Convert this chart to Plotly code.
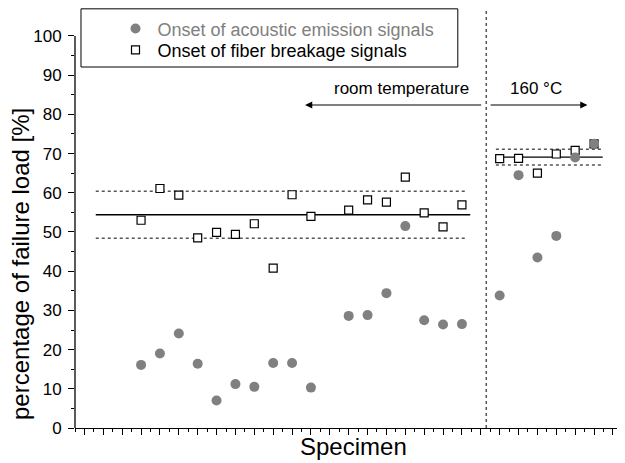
import plotly.graph_objects as go

# ---- data ----
rt_specimen = [1, 2, 3, 4, 5, 6, 7, 8, 9, 10, 12, 13, 14, 15, 16, 17, 18]
rt_ae_onset = [16.1, 19.0, 24.1, 16.4, 7.0, 11.2, 10.5, 16.6, 16.6, 10.3,
               28.6, 28.8, 34.4, 51.5, 27.5, 26.4, 26.5]
rt_fb_onset = [53.0, 61.1, 59.4, 48.5, 49.9, 49.4, 52.1, 40.8, 59.5, 54.0,
               55.6, 58.2, 57.6, 64.0, 54.9, 51.3, 56.9]

ht_specimen = [20, 21, 22, 23, 24, 25]
ht_ae_onset = [33.8, 64.5, 43.5, 49.0, 69.0, 72.5]
ht_fb_onset = [68.7, 68.8, 65.0, 69.9, 70.8, 72.5]

rt_mean, rt_sd = 54.4, 6.0
ht_mean, ht_sd = 69.1, 2.0

ae_name = "Onset of acoustic emission signals"
fb_name = "Onset of fiber breakage signals"
x_title = "Specimen"
y_title = "percentage of failure load [%]"
y_ticks = [0, 10, 20, 30, 40, 50, 60, 70, 80, 90, 100]

# ---- layout constants ----
X_RANGE = [-2.5, 26.64]
Y_RANGE = [0, 107.14]
RT_LINE_X = [-1.4, 18.44]
RT_DOT_X = [-1.4, 18.2]
HT_LINE_X = [19.8, 25.46]
DIVIDER_X = 19.29
FONT = "Arial, Liberation Sans, sans-serif"
GREY = "#808080"

fig = go.Figure()

# mean / deviation lines
for xs, m, sd, dx in [(RT_LINE_X, rt_mean, rt_sd, RT_DOT_X), (HT_LINE_X, ht_mean, ht_sd, HT_LINE_X)]:
    fig.add_trace(go.Scatter(x=xs, y=[m, m], mode="lines",
                             line=dict(color="black", width=1.3),
                             showlegend=False, hoverinfo="skip"))
    for lvl in (m + sd, m - sd):
        fig.add_trace(go.Scatter(x=dx, y=[lvl, lvl], mode="lines",
                                 line=dict(color="#555555", width=1.5, dash="dot"),
                                 showlegend=False, hoverinfo="skip"))

# fiber breakage squares
fig.add_trace(go.Scatter(
    x=rt_specimen + ht_specimen, y=rt_fb_onset + ht_fb_onset, mode="markers",
    name=fb_name, legend="legend2",
    marker=dict(symbol="square", size=8, color="white",
                line=dict(color="black", width=1.2))))

# acoustic emission circles
fig.add_trace(go.Scatter(
    x=rt_specimen + ht_specimen, y=rt_ae_onset + ht_ae_onset, mode="markers",
    name=f'<span style="color:{GREY}">{ae_name}</span>', legend="legend",
    marker=dict(symbol="circle", size=10, color=GREY, line=dict(width=0))))

shapes = [
    # y axis line only up to 100
    dict(type="line", xref="paper", yref="y", x0=0, x1=0, y0=0, y1=100,
         line=dict(color="black", width=1.3)),
    # vertical divider
    dict(type="line", xref="x", yref="paper", x0=DIVIDER_X, x1=DIVIDER_X, y0=0, y1=1,
         line=dict(color="#555555", width=1.5, dash="dot")),
    # legend box
    dict(type="rect", xref="paper", yref="paper", x0=0.0109, x1=0.696, y0=0.8595, y1=0.998,
         line=dict(color="black", width=1), fillcolor="white", layer="below"),
]

annotations = [
    dict(x=14.81, y=86.5, text="room temperature", showarrow=False,
         font=dict(size=17, color="black", family=FONT)),
    dict(x=21.91, y=86.5, text="160 °C", showarrow=False,
         font=dict(size=17, color="black", family=FONT)),
    dict(x=9.69, y=82.4, ax=19.10, ay=82.4, axref="x", ayref="y", text="",
         showarrow=True, arrowhead=2, arrowsize=1.2, arrowwidth=1.2, arrowcolor="black"),
    dict(x=24.65, y=82.4, ax=19.44, ay=82.4, axref="x", ayref="y", text="",
         showarrow=True, arrowhead=2, arrowsize=1.2, arrowwidth=1.2, arrowcolor="black"),
    # axis titles
    dict(xref="paper", yref="paper", x=0.507, y=-0.0452, text=x_title, showarrow=False,
         xanchor="center", yanchor="middle", font=dict(size=24, family=FONT, color="black")),
    dict(xref="paper", yref="paper", x=-0.0982, y=0.3905, text=y_title, showarrow=False,
         textangle=-90, xanchor="center", yanchor="middle",
         font=dict(size=24, family=FONT, color="black")),
]

legend_common = dict(xanchor="left", yanchor="middle", bgcolor="rgba(0,0,0,0)",
                     borderwidth=0, itemwidth=34,
                     font=dict(size=18, family=FONT, color="black"))

fig.update_layout(
    width=617, height=455,
    margin=dict(l=67, r=0, t=0, b=35),
    paper_bgcolor="white", plot_bgcolor="white",
    font=dict(family=FONT, color="black"),
    shapes=shapes, annotations=annotations,
    legend=dict(x=0.07, y=0.9505, **legend_common),
    legend2=dict(x=0.07, y=0.8998, **legend_common),
    xaxis=dict(range=X_RANGE, showgrid=False, zeroline=False, automargin=False,
               showline=True, linecolor="black", linewidth=1.3,
               ticks="outside", ticklen=6, tickwidth=1.2, tickcolor="black",
               tickvals=list(range(-2, 27)), showticklabels=False,
               minor=dict(tickvals=[v + 0.5 for v in range(-3, 27)], ticks="outside",
                          ticklen=3, tickwidth=1.2, tickcolor="black")),
    yaxis=dict(range=Y_RANGE, showgrid=False, zeroline=False, showline=False, automargin=False,
               ticks="outside", ticklen=6, tickwidth=1.2, tickcolor="black",
               tickvals=y_ticks, ticktext=[str(v) for v in y_ticks],
               tickfont=dict(size=17, family=FONT), ticklabelstandoff=3,
               minor=dict(tickvals=[v + 5 for v in y_ticks[:-1]], ticks="outside",
                          ticklen=3, tickwidth=1.2, tickcolor="black")),
)

fig.write_html("out.html")
